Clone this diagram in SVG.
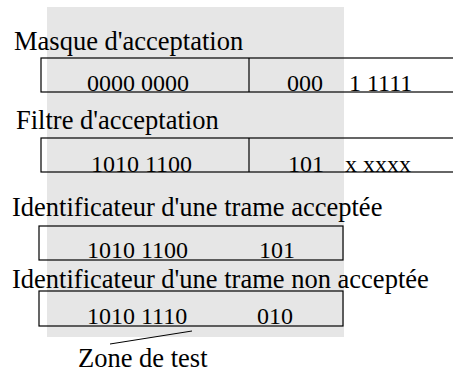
<svg xmlns="http://www.w3.org/2000/svg" width="453" height="372" viewBox="0 0 453 372">
<style>
text{font-family:"Liberation Serif","Times New Roman",serif;fill:#000}
.h{font-size:26.5px}
.v{font-size:24px}
.box{fill:none;stroke:#000;stroke-width:1.2}
</style>
<rect x="0" y="0" width="453" height="372" fill="#fff"/>
<rect x="47" y="7" width="297" height="330" fill="#e6e6e6"/>
<g id="masque">
<text class="h" x="14" y="50">Masque d'acceptation</text>
<rect class="box" x="41" y="58" width="420" height="34"/>
<line class="box" x1="249" y1="58" x2="249" y2="92"/>
<text class="v" x="87" y="91">0000 0000</text>
<text class="v" x="287" y="91">000</text>
<text class="v" x="349" y="91">1 1111</text>
</g>
<g id="filtre">
<text class="h" x="16" y="129">Filtre d'acceptation</text>
<rect class="box" x="41" y="138" width="420" height="34"/>
<line class="box" x1="249" y1="138" x2="249" y2="172"/>
<text class="v" x="91" y="172">1010 1100</text>
<text class="v" x="288" y="172">101</text>
<text class="v" x="345" y="172">x xxxx</text>
</g>
<g id="acceptee">
<text class="h" x="12" y="216">Identificateur d'une trame acceptée</text>
<rect class="box" x="39" y="226" width="304" height="34"/>
<text class="v" x="87" y="258">1010 1100</text>
<text class="v" x="259" y="258">101</text>
</g>
<g id="non-acceptee">
<text class="h" x="12" y="288">Identificateur d'une trame non acceptée</text>
<rect class="box" x="39" y="291" width="304" height="35"/>
<text class="v" x="87" y="324">1010 1110</text>
<text class="v" x="257" y="324">010</text>
</g>
<g id="connectors">
<line x1="110" y1="344" x2="192" y2="331" stroke="#000" stroke-width="1"/>
</g>
<g id="zone">
<text class="h" x="78" y="367">Zone de test</text>
</g>
</svg>
